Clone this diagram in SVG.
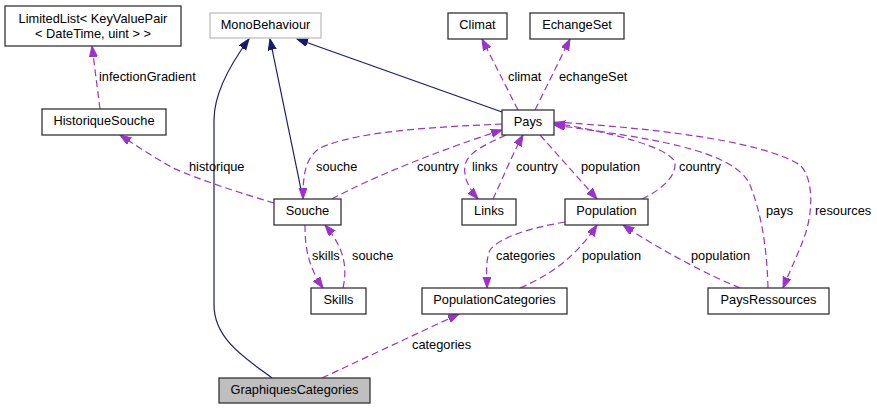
<svg xmlns="http://www.w3.org/2000/svg" width="877" height="409" viewBox="0 0 877 409">
<style>
text{font-family:"Liberation Sans",Arial,sans-serif;font-size:12.8px;fill:#000}
.n rect{fill:#fff;stroke:#333;stroke-width:1.3}
.n text{text-anchor:middle}
.inh{fill:none;stroke:#191970;stroke-width:1.2;marker-end:url(#an)}
.use{fill:none;stroke:#9a32cd;stroke-width:1.2;stroke-dasharray:7,4;marker-end:url(#ap)}
</style>
<defs>
<marker id="an" markerUnits="userSpaceOnUse" markerWidth="12" markerHeight="9" refX="11" refY="4" orient="auto"><path d="M0,0 L11,4 L0,8 z" fill="#191970" stroke="#191970"/></marker>
<marker id="ap" markerUnits="userSpaceOnUse" markerWidth="12" markerHeight="9" refX="11" refY="4" orient="auto"><path d="M0,0 L11,4 L0,8 z" fill="#9a32cd" stroke="#9a32cd"/></marker>
</defs>
<rect width="877" height="409" fill="#fff"/>
<g id="connectors">
<path class="inh" d="M272,378 C248,360 214,340 214,305 L214,120 C214,92 232,62 249,39"/>
<path class="inh" d="M303,199 L270,39"/>
<path class="inh" d="M502,112 L297,39"/>
<path class="use" d="M518,110 L482,39"/>
<path class="use" d="M535,110 L570,39"/>
<path class="use" d="M100,109 L92,46"/>
<path class="use" d="M274,203 C240,193 200,180 173,168 C155,158 135,145 120,135"/>
<path class="use" d="M502,124 C440,127 360,130 320,148 C305,158 303,175 303,199"/>
<path class="use" d="M332,199 C370,178 440,150 502,130"/>
<path class="use" d="M506,135 C485,145 468,152 465,165 C463,178 470,190 478,199"/>
<path class="use" d="M493,199 C502,180 512,155 523,135"/>
<path class="use" d="M540,135 L597,199"/>
<path class="use" d="M642,199 C660,190 676,178 675,163 C672,148 610,132 554,123"/>
<path class="use" d="M768,288 C767,250 762,215 750,185 C735,150 650,138 554,125"/>
<path class="use" d="M554,122 C650,128 760,140 800,165 C815,180 812,215 805,235 C798,255 790,270 783,288"/>
<path class="use" d="M565,222 C530,228 500,237 490,250 C485,262 487,275 487,288"/>
<path class="use" d="M520,288 C550,275 575,258 597,225"/>
<path class="use" d="M740,288 C710,276 660,250 623,225"/>
<path class="use" d="M305,225 C305,245 307,265 323,288"/>
<path class="use" d="M343,288 C347,270 346,250 325,225"/>
<path class="use" d="M322,378 L459,314"/>
<text x="99" y="81">infectionGradient</text>
<text x="508" y="81">climat</text>
<text x="559" y="81">echangeSet</text>
<text x="189" y="171">historique</text>
<text x="316" y="171">souche</text>
<text x="417" y="171">country</text>
<text x="472" y="171">links</text>
<text x="516" y="171">country</text>
<text x="581" y="171">population</text>
<text x="679" y="171">country</text>
<text x="766" y="215">pays</text>
<text x="815" y="215">resources</text>
<text x="312" y="260">skills</text>
<text x="352" y="260">souche</text>
<text x="496" y="260">categories</text>
<text x="582" y="260">population</text>
<text x="691" y="260">population</text>
<text x="412" y="349">categories</text>
</g>
<g id="LimitedList" class="n"><rect x="5" y="6" width="176" height="40"/><text x="93" y="23">LimitedList&lt; KeyValuePair</text><text x="93" y="38">&lt; DateTime, uint &gt; &gt;</text></g>
<g id="MonoBehaviour" class="n"><rect x="210" y="13" width="111" height="25" style="stroke:#bfbfbf"/><text x="265.5" y="29">MonoBehaviour</text></g>
<g id="Climat" class="n"><rect x="448" y="13" width="59" height="26"/><text x="477.5" y="29">Climat</text></g>
<g id="EchangeSet" class="n"><rect x="530" y="13" width="94" height="26"/><text x="577" y="29">EchangeSet</text></g>
<g id="HistoriqueSouche" class="n"><rect x="42" y="109" width="124" height="26"/><text x="104" y="125">HistoriqueSouche</text></g>
<g id="Pays" class="n"><rect x="502" y="110" width="52" height="25"/><text x="528" y="126">Pays</text></g>
<g id="Souche" class="n"><rect x="274" y="199" width="67" height="26"/><text x="307.5" y="215">Souche</text></g>
<g id="Links" class="n"><rect x="462" y="199" width="54" height="26"/><text x="489" y="215">Links</text></g>
<g id="Population" class="n"><rect x="565" y="199" width="83" height="26"/><text x="606.5" y="215">Population</text></g>
<g id="Skills" class="n"><rect x="311" y="288" width="55" height="26"/><text x="338.5" y="304">Skills</text></g>
<g id="PopulationCategories" class="n"><rect x="422" y="288" width="145" height="26"/><text x="494.5" y="304">PopulationCategories</text></g>
<g id="PaysRessources" class="n"><rect x="708" y="288" width="121" height="26"/><text x="768.5" y="304">PaysRessources</text></g>
<g id="GraphiquesCategories" class="n"><rect x="219" y="378" width="151" height="25" style="fill:#bfbfbf"/><text x="294.5" y="394">GraphiquesCategories</text></g>
</svg>
